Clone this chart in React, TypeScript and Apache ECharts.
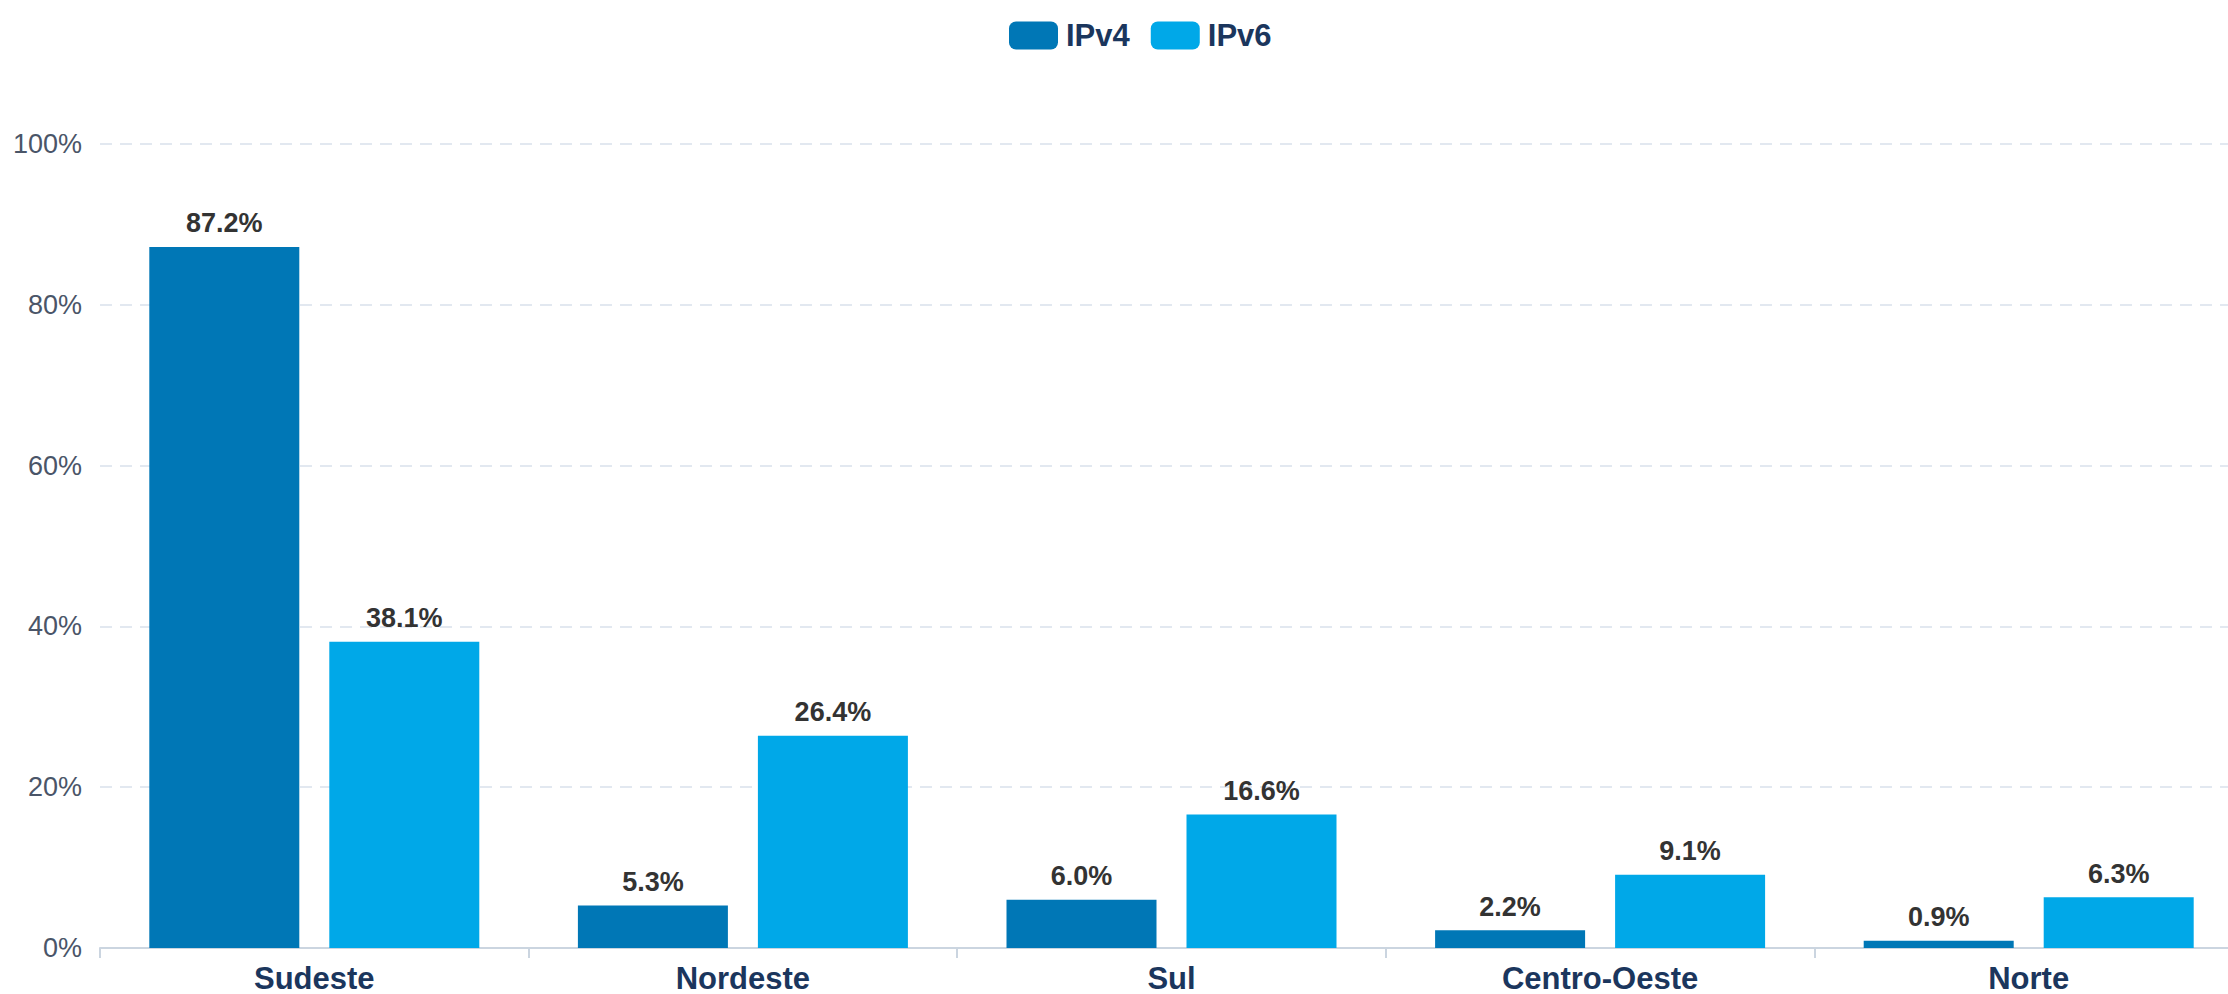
import React, { useEffect, useRef } from "react";
import * as echarts from "echarts";

const categories = ["Sudeste", "Nordeste", "Sul", "Centro-Oeste", "Norte"];
const ipv4Values = [87.2, 5.3, 6.0, 2.2, 0.9];
const ipv6Values = [38.1, 26.4, 16.6, 9.1, 6.3];
const seriesNames = ["IPv4", "IPv6"];

const FONT = "'Liberation Sans', Arial, Helvetica, sans-serif";

export default function App() {
  const ref = useRef<HTMLDivElement>(null);
  useEffect(() => {
    if (!ref.current) return;
    const chart = echarts.init(ref.current, null, { renderer: "svg" });
    const label = {
      show: true,
      position: "top",
      distance: 10,
      color: "#333333",
      fontWeight: "bold",
      fontSize: 27,
      fontFamily: FONT,
      formatter: (p: any) => Number(p.value).toFixed(1) + "%",
    };
    chart.setOption({
      animation: false,
      textStyle: { fontFamily: FONT },
      legend: {
        data: seriesNames,
        left: 1004,
        top: 15,
        itemWidth: 49,
        itemHeight: 28,
        itemGap: 21,
        icon: "roundRect",
        textStyle: {
          color: "#1b365d",
          fontWeight: "bold",
          fontSize: 31,
          fontFamily: FONT,
          padding: [0, 0, 0, 3],
        },
      },
      grid: { left: 100, right: 0, top: 144, bottom: 46, containLabel: false },
      xAxis: {
        type: "category",
        data: categories,
        axisLine: { lineStyle: { color: "#cbd5e0", width: 2 } },
        axisTick: { show: true, length: 10, lineStyle: { color: "#cbd5e0", width: 2 } },
        axisLabel: {
          color: "#1b365d",
          fontWeight: "bold",
          fontSize: 31,
          lineHeight: 30,
          fontFamily: FONT,
          margin: 15,
        },
      },
      yAxis: {
        type: "value",
        min: 0,
        max: 100,
        interval: 20,
        axisLine: { show: false },
        axisTick: { show: false },
        axisLabel: {
          color: "#4a5568",
          fontSize: 27,
          fontFamily: FONT,
          margin: 18,
          formatter: (v: number) => v + "%",
        },
        splitLine: { lineStyle: { color: "#e2e8f0", type: [12, 8], width: 2 } },
      },
      series: [
        {
          name: seriesNames[0],
          type: "bar",
          data: ipv4Values,
          barWidth: 150,
          barGap: "20%",
          itemStyle: { color: "#0077b6" },
          label,
        },
        {
          name: seriesNames[1],
          type: "bar",
          data: ipv6Values,
          barWidth: 150,
          barGap: "20%",
          itemStyle: { color: "#00a8e8" },
          label,
        },
      ],
    });
    return () => chart.dispose();
  }, []);
  return (
    <div
      style={{
        position: "fixed",
        left: 0,
        top: 0,
        width: 2228,
        height: 994,
        overflow: "hidden",
        background: "#fff",
      }}
    >
      <div ref={ref} style={{ width: 2243, height: 994 }} />
    </div>
  );
}
